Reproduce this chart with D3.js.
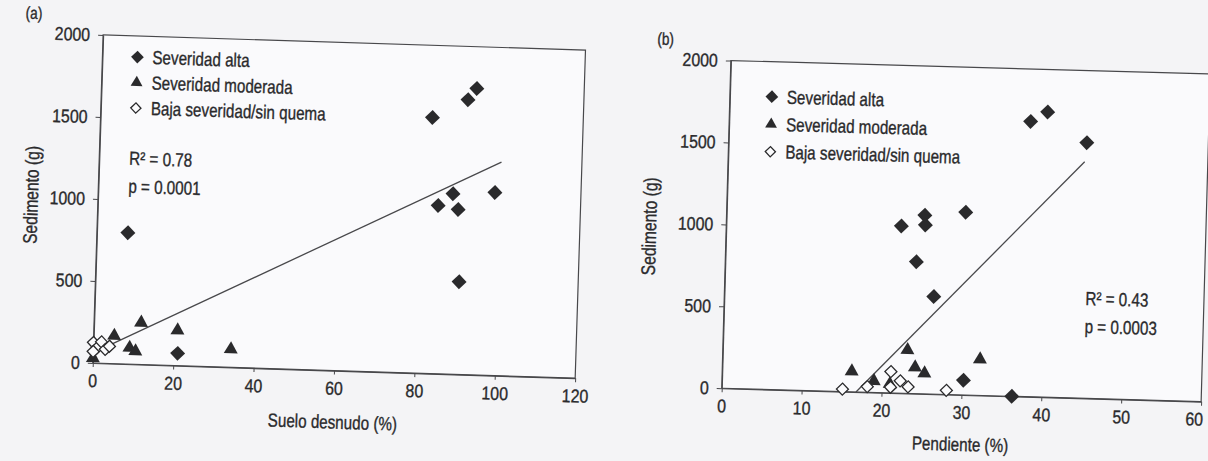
<!DOCTYPE html>
<html>
<head>
<meta charset="utf-8">
<script src="https://cdn.jsdelivr.net/npm/d3@7"></script>
<style>
  html, body { margin: 0; padding: 0; background: #f4f4f6; }
  svg { display: block; }
  text { font-family: "Liberation Sans", Arimo, Arial, sans-serif; fill: #2a2a2c;
         stroke: #2a2a2c; stroke-width: 0.35; }
</style>
</head>
<body>
<svg id="chart" width="1208" height="461"></svg>
<script>
// ---- Panel (a): suelo desnudo (%) vs sedimento (g) ----
const bareAlta = [[7.7, 800], [21, 75], [82.5, 1560], [91.2, 1675], [93.3, 1745],
                  [84.6, 1025], [88.2, 1100], [89.6, 1005], [98.6, 1115], [90.4, 565]];
const bareModerada = [[0, 30], [5.1, 170], [11.7, 255], [9, 100], [10.5, 80], [20.8, 215], [34.2, 110]];
const bareBaja = [[0, 125], [1, 95], [2, 130], [3, 85], [4, 105], [0, 70]];
const bareFitSlope = 12.4;
const bareFitIntercept = 62;
const bareFitRange = [1, 100];
const bareXTicks = [0, 20, 40, 60, 80, 100, 120];

// ---- Panel (b): pendiente (%) vs sedimento (g) ----
const slopeAlta = [[37.7, 1680], [39.8, 1740], [44.8, 1560], [21.9, 1020], [24.8, 1090], [24.9, 1030],
                   [29.9, 1115], [23.9, 805], [26.2, 595], [30.2, 90], [36.3, 0]];
const slopeModerada = [[16.2, 125], [19.0, 70], [23.1, 265], [24.1, 160], [25.3, 125], [32.2, 220], [21, 55]];
const slopeBaja = [[15.1, 15], [18.2, 35], [21.1, 130], [21.1, 35], [22.3, 75], [23.3, 40], [28.1, 25]];
const slopeFitSlope = 51.9;
const slopeFitIntercept = -872;
const slopeFitRange = [16.8, 44.6];
const slopeXTicks = [0, 10, 20, 30, 40, 50, 60];

const yTicks = [0, 500, 1000, 1500, 2000];
const legendLabels = ["Severidad alta", "Severidad moderada", "Baja severidad/sin quema"];

const INK = "#2a2a2c";
const LINE = "#48484b";

const svg = d3.select("#chart");

// narrow the glyphs of a text element to a fraction of its natural width
function condense(sel, k) {
  sel.each(function () {
    const w = this.getComputedTextLength();
    if (w > 0) {
      this.setAttribute("textLength", (w * k).toFixed(1));
      this.setAttribute("lengthAdjust", "spacingAndGlyphs");
    }
  });
}

// marker shapes: filled diamond, filled triangle, open diamond
const diamondPath = d3.symbol().type(d3.symbolSquare).size(112)();
const trianglePath = d3.symbol().type(d3.symbolTriangle).size(84)();
const openDiamondPath = d3.symbol().type(d3.symbolSquare).size(72)();

function drawMarker(sel, kind, scale) {
  const k = scale || 1;
  if (kind === 0) {
    sel.append("path").attr("d", diamondPath)
      .attr("transform", `rotate(45) scale(${k})`).attr("fill", INK);
  } else if (kind === 1) {
    sel.append("path").attr("d", trianglePath)
      .attr("transform", `scale(${k})`).attr("fill", INK);
  } else {
    sel.append("path").attr("d", openDiamondPath)
      .attr("transform", `rotate(45) scale(${k})`)
      .attr("fill", "#fbfbfd").attr("stroke", INK).attr("stroke-width", 1.3 / k);
  }
}

function panel(cfg) {
  const g = svg.append("g")
    .attr("transform", `rotate(${cfg.angle} ${cfg.cx} ${cfg.cy}) translate(${cfg.left},${cfg.top})`);

  const x = d3.scaleLinear().domain(cfg.xDomain).range([0, cfg.width]);
  const y = d3.scaleLinear().domain([0, 2000]).range([cfg.height, 0]);

  // plot frame
  g.append("rect").attr("width", cfg.width).attr("height", cfg.height)
    .attr("fill", "#fafafc").attr("stroke", LINE).attr("stroke-width", 1.2);

  const ax = g.append("g").attr("transform", `translate(0,${cfg.height})`)
    .call(d3.axisBottom(x).tickValues(cfg.xTicks).tickFormat(d3.format("d"))
      .tickSize(4).tickSizeOuter(0).tickPadding(7));
  const ay = g.append("g")
    .call(d3.axisLeft(y).tickValues(yTicks).tickFormat(d3.format("d"))
      .tickSize(5).tickSizeOuter(0).tickPadding(8));
  [ax, ay].forEach(a => {
    a.select(".domain").attr("stroke", LINE).attr("stroke-width", 1.2);
    a.selectAll(".tick line").attr("stroke", LINE).attr("stroke-width", 1);
    a.selectAll(".tick text").attr("font-size", 18.5).attr("fill", "#2a2a2c")
      .style("font-family", '"Liberation Sans", Arimo, Arial, sans-serif')
      .attr("class", "tick-label");
  });
  if (cfg.lastTickEnd) {
    ax.selectAll(".tick").filter(d => d === cfg.xDomain[1]).select("text")
      .attr("text-anchor", "end").attr("dx", 2);
  }

  // regression line
  const fit = d3.line().x(d => x(d)).y(d => y(cfg.fitSlope * d + cfg.fitIntercept));
  g.append("path").datum(cfg.fitRange).attr("d", fit)
    .attr("fill", "none").attr("stroke", LINE).attr("stroke-width", 1.3);

  // points
  [cfg.alta, cfg.moderada, cfg.baja].forEach((series, kind) => {
    g.append("g").selectAll("g").data(series).join("g")
      .attr("transform", d => `translate(${x(d[0])},${y(d[1])})`)
      .each(function () { drawMarker(d3.select(this), kind); });
  });

  // legend
  const lg = g.append("g").attr("transform", `translate(${cfg.legendX},${cfg.legendY})`);
  legendLabels.forEach((lab, i) => {
    const row = lg.append("g").attr("transform", `translate(0,${i * cfg.legendStep})`);
    drawMarker(row, i, 0.85);
    row.append("text").attr("x", 15).attr("y", 6.5).attr("font-size", 19).text(lab);
  });

  // statistics
  g.append("text").attr("x", cfg.statX).attr("y", cfg.statY).attr("font-size", 19).text(cfg.r2);
  g.append("text").attr("x", cfg.statX).attr("y", cfg.statY + 28).attr("font-size", 19).text(cfg.p);

  // axis titles
  g.append("text").attr("x", cfg.width / 2).attr("y", cfg.height + cfg.xTitleOffset)
    .attr("text-anchor", "middle").attr("font-size", 19).text(cfg.xTitle);
  g.append("text")
    .attr("transform", `translate(${cfg.yTitleOffset},${cfg.height / 2 + cfg.yTitleShift}) rotate(-90)`)
    .attr("text-anchor", "middle").attr("font-size", 19.5).text("Sedimento (g)");

  // panel letter
  g.append("text").attr("x", cfg.letterX).attr("y", cfg.letterY)
    .attr("font-size", 17).text(cfg.letter);
}

panel({
  angle: 1.8, cx: 337, cy: 208, left: 97.8, top: 42.4, width: 482.6, height: 328.2,
  xDomain: [0, 120], xTicks: bareXTicks,
  alta: bareAlta, moderada: bareModerada, baja: bareBaja,
  fitSlope: bareFitSlope, fitIntercept: bareFitIntercept, fitRange: bareFitRange,
  legendX: 35, legendY: 21, legendStep: 25.5,
  statX: 30, statY: 129, r2: "R² = 0.78", p: "p = 0.0001",
  xTitle: "Suelo desnudo (%)", xTitleOffset: 58, yTitleOffset: -60, yTitleShift: -2,
  letter: "(a)", letterX: -78, letterY: -14
});

panel({
  angle: 1.6, cx: 966, cy: 231.2, left: 726.2, top: 67.2, width: 479.6, height: 327.8,
  xDomain: [0, 60], xTicks: slopeXTicks, lastTickEnd: true,
  alta: slopeAlta, moderada: slopeModerada, baja: slopeBaja,
  fitSlope: slopeFitSlope, fitIntercept: slopeFitIntercept, fitRange: slopeFitRange,
  legendX: 42, legendY: 35, legendStep: 27.5,
  statX: 361, statY: 234.5, r2: "R² = 0.43", p: "p = 0.0003",
  xTitle: "Pendiente (%)", xTitleOffset: 56, yTitleOffset: -70, yTitleShift: 4,
  letter: "(b)", letterX: -74, letterY: -14
});

// condensed lettering throughout
svg.selectAll("text.tick-label").call(condense, 0.86);
svg.selectAll("text:not(.tick-label)").call(condense, 0.8);
</script>
</body>
</html>
